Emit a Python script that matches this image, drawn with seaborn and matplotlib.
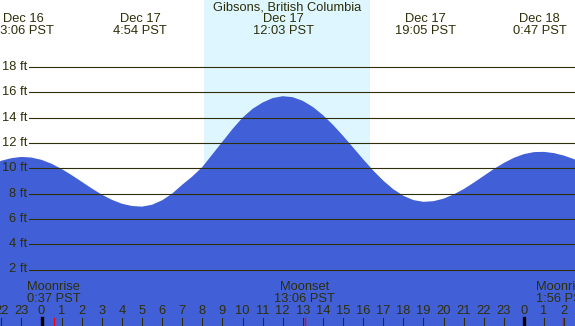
import numpy as np
import pandas as pd
import matplotlib
matplotlib.use("Agg")
import matplotlib.pyplot as plt
import seaborn as sns

# Tide heights (ft), every half hour (hours from Dec 17 0:00 PST)
hours = np.arange(-3.0, 27.5, 0.5)
heights = [9.8, 10.21, 10.6, 10.8, 10.9, 10.85, 10.67, 10.36, 9.95, 9.46,
           8.94, 8.41, 7.92, 7.51, 7.2, 7.02, 6.97, 7.12, 7.47, 8.0,
           8.7, 9.35, 10.1, 11.1, 12.1, 13.1, 14.0, 14.7, 15.2, 15.55,
           15.7, 15.62, 15.33, 14.85, 14.21, 13.44, 12.57, 11.65, 10.72, 9.83,
           9.03, 8.35, 7.83, 7.49, 7.35, 7.4, 7.6, 7.93, 8.35, 8.86,
           9.4, 9.94, 10.42, 10.83, 11.12, 11.28, 11.3, 11.2, 11.0, 10.72,
           10.4]

# high / low tide labels
tide_times = [-0.9, 4.9, 12.05, 19.083, 24.783]
tide_days = ["Dec 16", "Dec 17", "Dec 17", "Dec 17", "Dec 18"]
tide_labels = ["23:06 PST", "4:54 PST", "12:03 PST", "19:05 PST", "0:47 PST"]

# moon events
moon_times = [0.617, 13.1, 25.933]
moon_names = ["Moonrise", "Moonset", "Moonrise"]
moon_labels = ["0:37 PST", "13:06 PST", "1:56 PST"]

sunrise, sunset = 8.1, 16.35
grid_ft = [2, 4, 6, 8, 10, 12, 14, 16, 18]
hour_ticks = list(range(-2, 27))

night = "#b0c4de"
day = "#ddf6ff"
water = "#4160d8"
ink = "#2e2e08"
fs = 9.3

plt.rcParams["font.family"] = ["Liberation Sans", "DejaVu Sans"]

W, H = 575, 326
fig = plt.figure(figsize=(W / 100, H / 100), dpi=100)
ax = fig.add_axes([0, 0, 1, 1])
x0, x1 = -41.5 / 20.1, (W - 41.5) / 20.1
y_top, y_bot = 294.8 / 12.65, (294.8 - H) / 12.65
ax.set_xlim(x0, x1)
ax.set_ylim(y_bot, y_top)
ax.set_facecolor(night)
ax.axis("off")

ax.axvspan(sunrise, sunset, color=day, lw=0, zorder=0)

df = pd.DataFrame({"hour": hours, "ft": heights})
sns.lineplot(data=df, x="hour", y="ft", color=water, lw=0, ax=ax)
ax.fill_between(df["hour"], y_bot - 1, df["ft"], color=water, lw=0, zorder=2)

gx0 = (29 - 41.5) / 20.1
for g in grid_ft:
    ax.plot([gx0, x1], [g, g], color=ink, lw=0.8, zorder=3)
    ax.text(gx0 - 0.08, g, f"{g} ft", ha="right", va="center",
            fontsize=fs, color=ink, zorder=4)

def py(p):
    return 1 - p / H

tr = ax.get_xaxis_transform()
ax.text(0.5, py(7.5), "Gibsons, British Columbia", transform=fig.transFigure,
        ha="center", va="center", fontsize=fs, color=ink)
for t, d, lab in zip(tide_times, tide_days, tide_labels):
    ax.text(t, py(19.5), d, transform=tr, ha="center", va="center", fontsize=fs, color=ink)
    ax.text(t, py(31.5), lab, transform=tr, ha="center", va="center", fontsize=fs, color=ink)

for t, n, lab in zip(moon_times, moon_names, moon_labels):
    ax.text(t, py(287.5), n, transform=tr, ha="center", va="center", fontsize=fs, color=ink, zorder=5)
    ax.text(t, py(299.5), lab, transform=tr, ha="center", va="center", fontsize=fs, color=ink, zorder=5)
    ax.plot([t, t], [py(318), 0], transform=tr, color="red", lw=1, zorder=5)

for h in hour_ticks:
    ax.text(h, py(311.5), str(h % 24), transform=tr, ha="center", va="center",
            fontsize=fs, color=ink, zorder=5)
    ax.plot([h, h], [py(318), 0], transform=tr, color=ink if h % 24 else "black",
            lw=0.8 if h % 24 else 2.4, zorder=5)

fig.savefig("out.png", dpi=100)
